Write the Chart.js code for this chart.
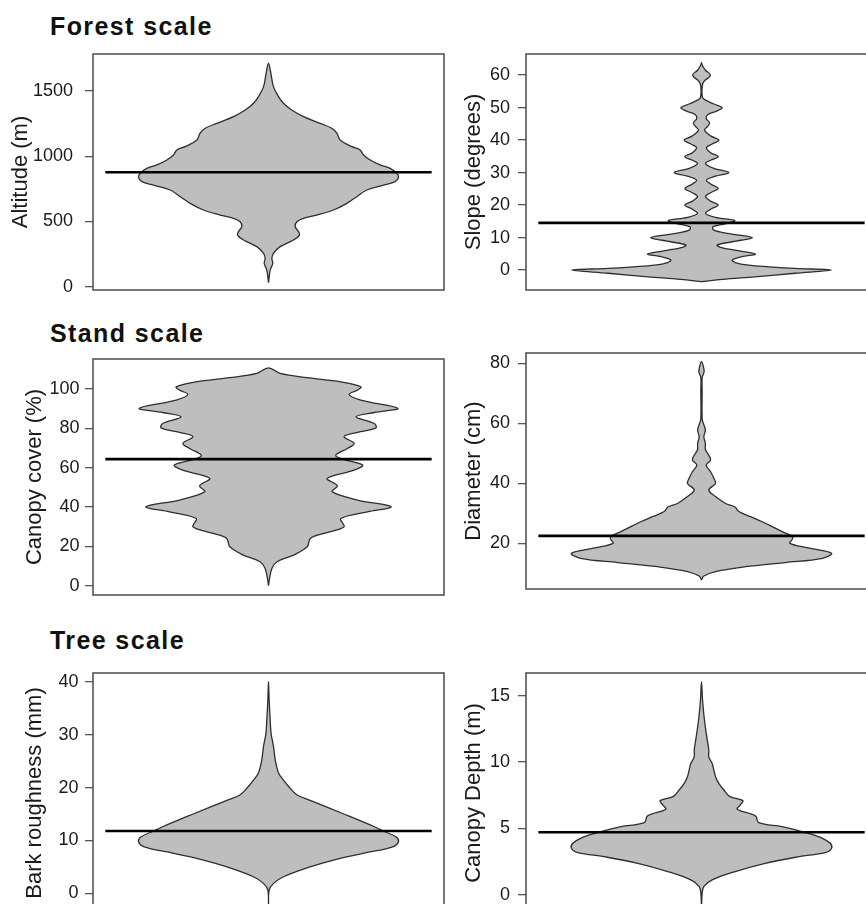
<!DOCTYPE html>
<html>
<head>
<meta charset="utf-8">
<script src="https://cdn.jsdelivr.net/npm/chart.js@4.4.1/dist/chart.umd.min.js"></script>
<style>
  html, body { margin:0; padding:0; background:#fff; width:866px; height:904px; overflow:hidden; }
  .sec { position:absolute; font-family:'Liberation Sans', Arial, sans-serif; font-weight:bold; font-size:25px; line-height:25px; letter-spacing:1.4px; color:#111; white-space:nowrap; }
  canvas { position:absolute; }
</style>
</head>
<body>
<div class="sec" style="left:50px; top:14px;">Forest scale</div>
<div class="sec" style="left:50px; top:321px;">Stand scale</div>
<div class="sec" style="left:50px; top:628px;">Tree scale</div>
<canvas id="c1"></canvas>
<canvas id="c2"></canvas>
<canvas id="c3"></canvas>
<canvas id="c4"></canvas>
<canvas id="c5"></canvas>
<canvas id="c6"></canvas>
<script>
// ---------------- DATA ----------------
// Altitude (m)
const altitudeValues  = [31,128,179,217,256,307,358,396,422,460,498,524,549,588,639,690,741,779,805,838,869,907,933,971,1009,1048,1073,1124,1176,1214,1252,1303,1354,1406,1457,1533,1636,1712];
const altitudeDensity = [0,0.013,0.033,0.026,0.038,0.09,0.192,0.238,0.231,0.205,0.218,0.269,0.372,0.5,0.603,0.679,0.756,0.885,0.974,1.0,0.987,0.936,0.859,0.782,0.731,0.705,0.641,0.551,0.526,0.487,0.397,0.269,0.179,0.115,0.077,0.038,0.018,0];
const altitudeMean = 877;
const altitudeTicks = [0,500,1000,1500];

// Slope (degrees)
const slopeValues  = [-3.6,-2.9,-2.1,-1.0,0,0.5,1.0,1.5,2.3,3.1,4.1,4.9,5.9,7.0,7.7,8.7,10,11.3,12.3,13.3,14.2,15.2,16.2,17.4,18.7,20,21.2,22.6,23.8,25.1,26.5,27.7,28.9,30,31.3,32.8,33.8,34.9,36.1,37.7,38.8,40,41.3,43.1,44.3,45.3,46.7,47.9,49,50,51.1,52.3,53.1,56.4,58,60,61.5,63.1,63.8];
const slopeDensity = [0,0.16,0.41,0.72,1.0,0.72,0.52,0.36,0.26,0.236,0.31,0.415,0.29,0.146,0.12,0.236,0.39,0.197,0.095,0.087,0.18,0.256,0.108,0.031,0.07,0.128,0.07,0.031,0.07,0.128,0.07,0.038,0.108,0.21,0.095,0.031,0.07,0.128,0.07,0.038,0.082,0.133,0.07,0.023,0.049,0.062,0.036,0.049,0.12,0.159,0.095,0.031,0.008,0.005,0.018,0.069,0.03,0.005,0];
const slopeMean = 14.5;
const slopeTicks = [0,10,20,30,40,50,60];

// Canopy cover (%)
const canopyValues  = [0,3.7,8.8,12.2,15.6,19.8,24.1,26.6,30,34.2,37.6,40.2,43.6,47.8,50.8,54.6,58.8,61.4,64.4,66.4,69.8,72.4,75.8,78,80.3,82.5,85.9,88.1,90.2,94.4,97.3,99.5,101.2,103.7,105.8,108,110.8];
const canopyDensity = [0,0.008,0.026,0.065,0.194,0.297,0.323,0.426,0.581,0.556,0.762,0.943,0.685,0.49,0.53,0.452,0.659,0.724,0.568,0.517,0.607,0.659,0.581,0.685,0.827,0.814,0.672,0.814,0.995,0.71,0.62,0.685,0.71,0.556,0.297,0.09,0];
const canopyMean = 64.4;
const canopyTicks = [0,20,40,60,80,100];

// Diameter (cm)
const diameterValues  = [7.8,9.1,10.6,12.2,13.6,15,16.7,18.5,20,21.5,22.4,23.9,25.6,27.2,28.9,30.6,32.2,33.3,35.6,37.8,40,41.7,43.9,46.1,47.8,49.4,51.3,53.3,55.6,57.8,60,61.5,71,75.3,77.2,78.9,80.6];
const diameterDensity = [0,0.018,0.108,0.338,0.646,0.93,1.0,0.82,0.68,0.7,0.697,0.62,0.544,0.467,0.377,0.287,0.256,0.185,0.108,0.056,0.108,0.095,0.07,0.036,0.07,0.056,0.03,0.03,0.018,0.03,0.015,0.005,0.005,0.005,0.02,0.015,0];
const diameterMean = 22.5;
const diameterTicks = [20,40,60,80];

// Bark roughness (mm)
const barkValues  = [-3,0.6,1.9,3.15,5.0,6.3,7.6,8.8,9.8,10.7,11.7,12.6,15.1,17.6,18.6,20.2,21.4,22.7,25.2,27.7,30.2,32.8,36.5,40];
const barkDensity = [0,0.005,0.039,0.116,0.32,0.5,0.736,0.956,1.0,0.98,0.891,0.814,0.57,0.32,0.22,0.155,0.116,0.078,0.052,0.039,0.02,0.013,0.005,0];
const barkMean = 11.8;
const barkTicks = [0,10,20,30,40];

// Canopy Depth (m)
const depthValues  = [-1.0,0.13,0.63,1.13,1.76,2.38,2.88,3.19,3.5,3.89,4.26,4.64,4.9,5.14,5.44,5.95,6.45,6.8,7.1,7.4,7.9,8.4,8.9,9.4,9.9,10.4,10.9,11.4,12.2,13.4,14.67,16.05];
const depthDensity = [0,0.005,0.018,0.082,0.26,0.49,0.75,0.95,1.0,0.99,0.93,0.82,0.72,0.62,0.44,0.415,0.275,0.3,0.318,0.22,0.172,0.133,0.108,0.095,0.082,0.056,0.056,0.049,0.036,0.02,0.008,0];
const depthMean = 4.72;
const depthTicks = [0,5,10,15];

// ---------------- RENDERING ----------------
Chart.defaults.font.family = "'Liberation Sans', Arial, sans-serif";
const FONT_TICK = 18, FONT_TITLE = 22;
const X_HALF = 1.35, LINE_HALF = 1.255;
const PAD = 30;

const boxPlugin = {
  id: 'panelBox',
  afterDatasetsDraw(chart) {
    const {ctx, chartArea: a} = chart;
    ctx.save();
    ctx.strokeStyle = '#555';
    ctx.lineWidth = 1.6;
    ctx.strokeRect(a.left, a.top, a.right - a.left, a.bottom - a.top);
    ctx.restore();
  }
};

function outline(values, dens) {
  const pts = [];
  for (let i = 0; i < values.length; i++) pts.push({x: dens[i], y: values[i]});
  for (let i = values.length - 2; i >= 0; i--) pts.push({x: -dens[i], y: values[i]});
  return pts;
}

function makePanel(id, o) {
  const cv = document.getElementById(id);
  const boxH = o.boxBottom - o.boxTop;
  const W = o.axisW + 351 + 4;
  const H = boxH + 2 * PAD;
  cv.width = W; cv.height = H;
  cv.style.width = W + 'px'; cv.style.height = H + 'px';
  cv.style.left = o.canvasLeft + 'px';
  cv.style.top = (o.boxTop - PAD) + 'px';
  new Chart(cv, {
    type: 'scatter',
    data: {
      datasets: [
        {
          data: [{x: -LINE_HALF, y: o.mean}, {x: LINE_HALF, y: o.mean}],
          showLine: true, borderColor: '#000', borderWidth: 2.6,
          pointRadius: 0, tension: 0, fill: false
        },
        {
          data: outline(o.values, o.dens),
          showLine: true, borderColor: '#2e2e2e', borderWidth: 1.3,
          backgroundColor: '#bebebe', fill: 'shape',
          pointRadius: 0, tension: 0.35
        }
      ]
    },
    options: {
      responsive: false, maintainAspectRatio: false, animation: false,
      devicePixelRatio: 1,
      layout: { padding: { top: PAD, bottom: PAD, left: 0, right: 4 } },
      plugins: { legend: { display: false }, tooltip: { enabled: false } },
      scales: {
        x: { type: 'linear', display: false, min: -X_HALF, max: X_HALF },
        y: {
          type: 'linear', min: o.min, max: o.max,
          afterFit: (s) => { s.width = o.axisW; },
          afterBuildTicks: (s) => { s.ticks = o.ticks.map(v => ({value: v})); },
          border: { display: false },
          grid: { drawOnChartArea: false, drawTicks: true, tickLength: 8, color: '#555', lineWidth: 1.3 },
          ticks: { padding: o.tickPad, color: '#1a1a1a', font: { size: FONT_TICK }, callback: (v) => String(v) },
          title: { display: true, text: o.title, color: '#1a1a1a', font: { size: FONT_TITLE }, padding: { top: o.titlePad, bottom: 0 } }
        }
      }
    },
    plugins: [boxPlugin]
  });
}

makePanel('c1', { canvasLeft: 0, axisW: 93, boxTop: 54, boxBottom: 290, min: -25, max: 1783, tickPad: 12,
  values: altitudeValues, dens: altitudeDensity, mean: altitudeMean, ticks: altitudeTicks, title: 'Altitude (m)', titlePad: 8 });
makePanel('c2', { canvasLeft: 430, axisW: 96, boxTop: 54, boxBottom: 290, min: -6.15, max: 66.5, tickPad: 8,
  values: slopeValues, dens: slopeDensity, mean: slopeMean, ticks: slopeTicks, title: 'Slope (degrees)', titlePad: 30.5 });
makePanel('c3', { canvasLeft: 0, axisW: 93, boxTop: 359, boxBottom: 595, min: -4.7, max: 115.3, tickPad: 5.5,
  values: canopyValues, dens: canopyDensity, mean: canopyMean, ticks: canopyTicks, title: 'Canopy cover (%)', titlePad: 21.5 });
makePanel('c4', { canvasLeft: 430, axisW: 96, boxTop: 353, boxBottom: 589, min: 4.77, max: 83.5, tickPad: 8,
  values: diameterValues, dens: diameterDensity, mean: diameterMean, ticks: diameterTicks, title: 'Diameter (cm)', titlePad: 30.5 });
makePanel('c5', { canvasLeft: 0, axisW: 93, boxTop: 673, boxBottom: 913, min: -3.7, max: 41.65, tickPad: 6.5,
  values: barkValues, dens: barkDensity, mean: barkMean, ticks: barkTicks, title: 'Bark roughness (mm)', titlePad: 21.5 });
makePanel('c6', { canvasLeft: 430, axisW: 96, boxTop: 673, boxBottom: 913, min: -1.36, max: 16.71, tickPad: 8,
  values: depthValues, dens: depthDensity, mean: depthMean, ticks: depthTicks, title: 'Canopy Depth (m)', titlePad: 30.5 });
</script>
</body>
</html>
